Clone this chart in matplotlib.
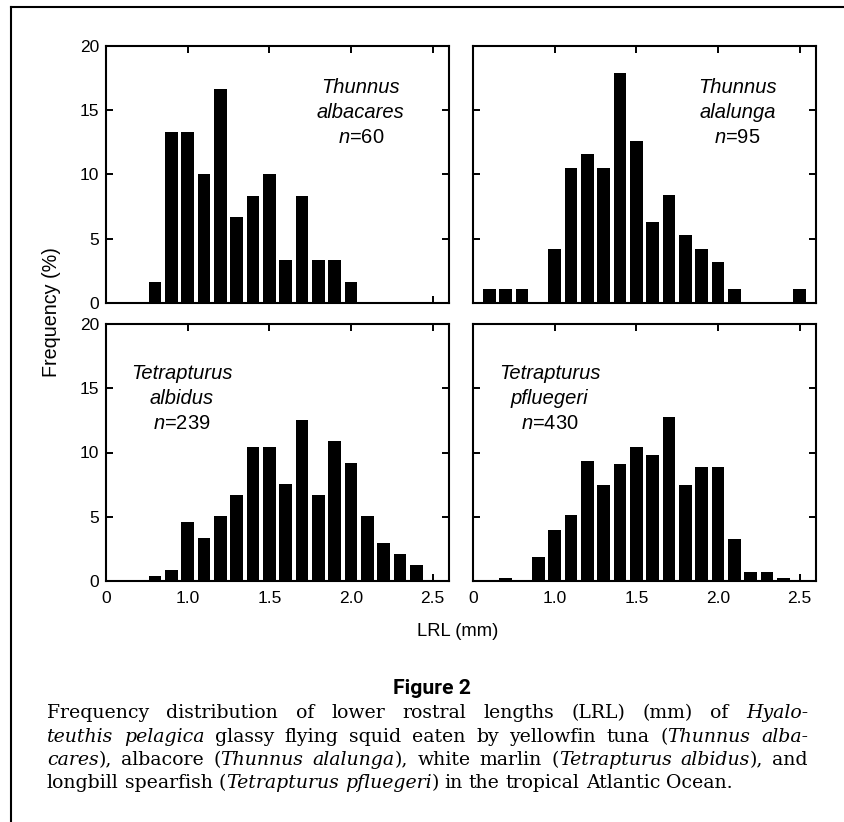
import numpy as np
import matplotlib
matplotlib.use("Agg")
import matplotlib.pyplot as plt
from matplotlib.lines import Line2D

plt.rcParams['font.family'] = ['Liberation Sans', 'DejaVu Sans']
plt.rcParams['mathtext.fontset'] = 'custom'
plt.rcParams['mathtext.it'] = 'Liberation Sans:italic'
plt.rcParams['mathtext.rm'] = 'Liberation Sans'

# LRL bin centres (mm) and counts
lrl_albacares = [0.8, 0.9, 1.0, 1.1, 1.2, 1.3, 1.4, 1.5, 1.6, 1.7, 1.8, 1.9, 2.0]
cnt_albacares = [1, 8, 8, 6, 10, 4, 5, 6, 2, 5, 2, 2, 1]
n_albacares = 60

lrl_alalunga = [0.6, 0.7, 0.8, 1.0, 1.1, 1.2, 1.3, 1.4, 1.5, 1.6, 1.7, 1.8, 1.9, 2.0, 2.1, 2.5]
cnt_alalunga = [1, 1, 1, 4, 10, 11, 10, 17, 12, 6, 8, 5, 4, 3, 1, 1]
n_alalunga = 95

lrl_albidus = [0.8, 0.9, 1.0, 1.1, 1.2, 1.3, 1.4, 1.5, 1.6, 1.7, 1.8, 1.9, 2.0, 2.1, 2.2, 2.3, 2.4]
cnt_albidus = [1, 2, 11, 8, 12, 16, 25, 25, 18, 30, 16, 26, 22, 12, 7, 5, 3]
n_albidus = 239

lrl_pfluegeri = [0.7, 0.9, 1.0, 1.1, 1.2, 1.3, 1.4, 1.5, 1.6, 1.7, 1.8, 1.9, 2.0, 2.1, 2.2, 2.3, 2.4]
cnt_pfluegeri = [1, 8, 17, 22, 40, 32, 39, 45, 42, 55, 32, 38, 38, 14, 3, 3, 1]
n_pfluegeri = 430

xticks = [0.5, 1.0, 1.5, 2.0, 2.5]
xticklabels = ['0', '1.0', '1.5', '2.0', '2.5']
yticks = [0, 5, 10, 15, 20]

panels = [
    (lrl_albacares, cnt_albacares, n_albacares, 'Thunnus', 'albacares'),
    (lrl_alalunga, cnt_alalunga, n_alalunga, 'Thunnus', 'alalunga'),
    (lrl_albidus, cnt_albidus, n_albidus, 'Tetrapturus', 'albidus'),
    (lrl_pfluegeri, cnt_pfluegeri, n_pfluegeri, 'Tetrapturus', 'pfluegeri'),
]

W, H = 845, 822
fig = plt.figure(figsize=(W / 100, H / 100), dpi=100)

def px_axes(x0, y0, x1, y1):
    return fig.add_axes([x0 / W, 1 - y1 / H, (x1 - x0) / W, (y1 - y0) / H])

boxes = [(106, 46, 449, 303), (473, 46, 816, 303),
         (106, 324, 449, 581), (473, 324, 816, 581)]
label_pos = [(2.06, 'top'), (2.12, 'top'), (0.965, 'bottom'), (0.97, 'bottom')]

for i, (lrl, cnt, n, genus, species) in enumerate(panels):
    ax = px_axes(*boxes[i])
    pct = np.array(cnt) / n * 100
    ax.bar(lrl, pct, width=0.078, color='black', linewidth=0)
    ax.set_xlim(0.5, 2.6)
    ax.set_ylim(0, 20)
    ax.set_xticks(xticks)
    ax.set_yticks(yticks)
    ax.tick_params(direction='in', top=True, right=True, length=5, width=1.4,
                   labelsize=12.5, color='black')
    ax.tick_params(axis='x', pad=7)
    ax.tick_params(axis='y', pad=5)
    for s in ax.spines.values():
        s.set_linewidth(1.5)
    if i >= 2:
        ax.set_xticklabels(xticklabels)
    else:
        ax.set_xticklabels([])
    if i % 2 == 1:
        ax.set_yticklabels([])

    xc = label_pos[i][0]
    y1 = 16.75 if label_pos[i][1] == 'top' else 16.15
    dy = 1.93
    ax.text(xc, y1, genus, style='italic', fontsize=14.5, ha='center', va='center')
    ax.text(xc, y1 - dy, species, style='italic', fontsize=14.5, ha='center', va='center')
    ax.text(xc, y1 - 2 * dy, r'$n$=' + str(n), fontsize=14.5, ha='center', va='center')

fig.text(52 / W, 1 - 312 / H, 'Frequency (%)', rotation=90, fontsize=14.2,
         ha='center', va='center')
fig.text(458 / W, 1 - 631 / H, 'LRL (mm)', fontsize=13.2, ha='center', va='center')
fig.text(432 / W, 1 - 688 / H, 'Figure 2', fontsize=15.2, fontweight='bold',
         family='Roboto', ha='center', va='center')

# outer frame (right and bottom sides fall outside the picture)
fig.add_artist(Line2D([11 / W, 11 / W], [0, 1 - 7 / H], color='black', lw=1.5))
fig.add_artist(Line2D([11 / W, 1], [1 - 7 / H, 1 - 7 / H], color='black', lw=1.5))

# justified caption
R = False
I = True
caption = [
    [[('Frequency', R)], [('distribution', R)], [('of', R)], [('lower', R)],
     [('rostral', R)], [('lengths', R)], [('(LRL)', R)], [('(mm)', R)],
     [('of', R)], [('Hyalo-', I)]],
    [[('teuthis', I)], [('pelagica', I)], [('glassy', R)], [('flying', R)],
     [('squid', R)], [('eaten', R)], [('by', R)], [('yellowfin', R)],
     [('tuna', R)], [('(', R), ('Thunnus', I)], [('alba-', I)]],
    [[('cares', I), ('),', R)], [('albacore', R)], [('(', R), ('Thunnus', I)],
     [('alalunga', I), ('),', R)], [('white', R)], [('marlin', R)],
     [('(', R), ('Tetrapturus', I)], [('albidus', I), ('),', R)], [('and', R)]],
    [[('longbill', R)], [('spearfish', R)], [('(', R), ('Tetrapturus', I)],
     [('pfluegeri', I), (')', R)], [('in', R)], [('the', R)], [('tropical', R)],
     [('Atlantic', R)], [('Ocean.', R)]],
]
baselines = [718, 742, 765, 788]
cap_left, cap_right = 47, 808
cap_fs = 13.6

fig.canvas.draw()
renderer = fig.canvas.get_renderer()

def piece_text(s, it):
    return fig.text(0, 0, s, fontsize=cap_fs, family='DejaVu Serif',
                    style='italic' if it else 'normal', va='baseline', ha='left')

probe = piece_text('a a', False)
w_aa = probe.get_window_extent(renderer).width
probe.set_text('aa')
space_w = w_aa - probe.get_window_extent(renderer).width
probe.remove()

for li, line in enumerate(caption):
    words = []
    total = 0
    for word in line:
        items = []
        ww = 0
        for s, it in word:
            t = piece_text(s, it)
            w = t.get_window_extent(renderer).width
            items.append((t, w))
            ww += w
        words.append((items, ww))
        total += ww
    if li < len(caption) - 1:
        gap = (cap_right - cap_left - total) / (len(words) - 1)
    else:
        gap = space_w
    x = cap_left
    yb = 1 - baselines[li] / H
    for items, ww in words:
        xx = x
        for t, w in items:
            t.set_position((xx / W, yb))
            xx += w
        x += ww + gap

fig.savefig('out.png', dpi=100)
